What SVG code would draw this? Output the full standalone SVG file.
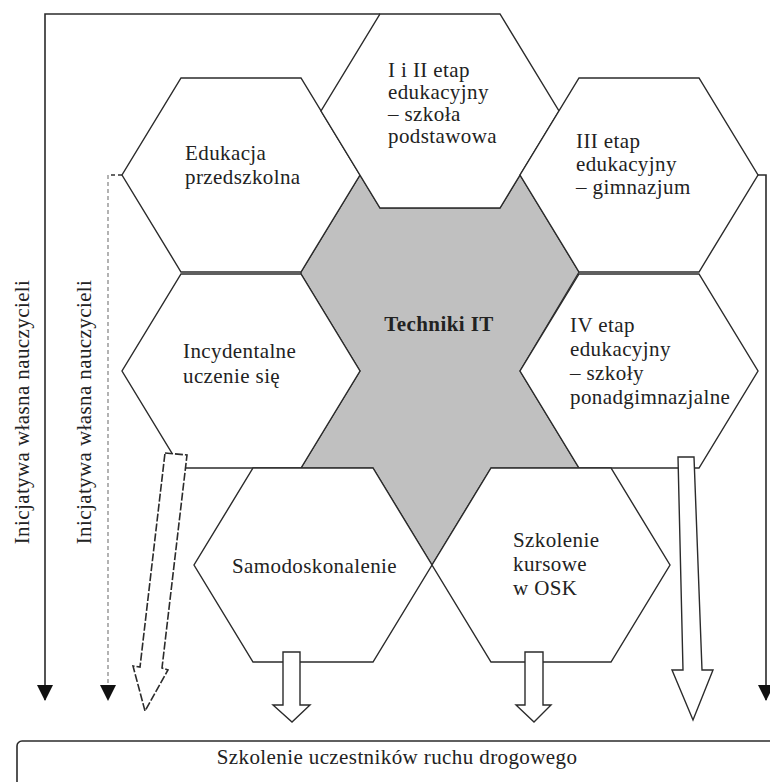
<svg xmlns="http://www.w3.org/2000/svg" width="770" height="782" viewBox="0 0 770 782">
<defs>
<style>
.hex{fill:#fff;stroke:#2b2b2b;stroke-width:1.4;stroke-linejoin:miter}
.t{font-family:"Liberation Serif","Times New Roman",serif;font-size:21px;fill:#222;letter-spacing:0.4px}
.b{font-weight:bold;text-anchor:middle}
.ln{fill:none;stroke:#2b2b2b;stroke-width:1.6}
.dl{fill:none;stroke:#8a8a8a;stroke-width:1.3;stroke-dasharray:4 3}
.ha{fill:#fff;stroke:#2b2b2b;stroke-width:1.4;stroke-linejoin:miter}
.hd{fill:#fff;stroke:#2b2b2b;stroke-width:1.6;stroke-dasharray:8 2}
</style>
<marker id="ah" markerWidth="16" markerHeight="16" viewBox="0 0 16 16" refX="15" refY="8" orient="auto" markerUnits="userSpaceOnUse">
<path d="M0,0 L16,8 L0,16 Z" fill="#111"/>
</marker>
</defs>
<rect width="770" height="782" fill="#fff"/>

<g id="center-techniki-it">
<polygon points="360,175 380,208 500,208 520,175 579,272 520,371 579,468 491,468 432,565 373,468 301,468 360,371 301,274 301,272" fill="#c0c0c0" stroke="#2b2b2b" stroke-width="1.2"/>
<text class="t b" x="439" y="331">Techniki IT</text>
</g>

<g id="node-edukacja">
<polygon class="hex" points="181,78 301,78 360,175 301,272 181,272 122,175"/>
<text class="t" x="185" y="160">Edukacja</text>
<text class="t" x="185" y="184">przedszkolna</text>
</g>

<g id="node-etap-1-2">
<polygon class="hex" points="380,14 500,14 559,111 500,208 380,208 321,111"/>
<text class="t" x="388" y="77">I i II etap</text>
<text class="t" x="388" y="99">edukacyjny</text>
<text class="t" x="388" y="121">– szkoła</text>
<text class="t" x="388" y="143">podstawowa</text>
</g>

<g id="node-etap-3">
<polygon class="hex" points="579,78 699,78 758,175 699,272 579,272 520,175"/>
<text class="t" x="576" y="148">III etap</text>
<text class="t" x="576" y="171">edukacyjny</text>
<text class="t" x="576" y="194">– gimnazjum</text>
</g>

<g id="node-incydentalne">
<polygon class="hex" points="181,274 301,274 360,371 301,468 181,468 122,371"/>
<text class="t" x="183" y="358">Incydentalne</text>
<text class="t" x="183" y="383">uczenie się</text>
</g>

<g id="node-etap-4">
<polygon class="hex" points="579,274 699,274 758,371 699,468 579,468 520,371"/>
<text class="t" x="570" y="332">IV etap</text>
<text class="t" x="570" y="356">edukacyjny</text>
<text class="t" x="570" y="380">– szkoły</text>
<text class="t" x="570" y="404">ponadgimnazjalne</text>
</g>

<g id="node-samodoskonalenie">
<polygon class="hex" points="253,468 373,468 432,565 373,662 253,662 194,565"/>
<text class="t" x="232" y="573">Samodoskonalenie</text>
</g>

<g id="node-szkolenie-kursowe">
<polygon class="hex" points="491,468 611,468 670,565 611,662 491,662 432,565"/>
<text class="t" x="513" y="547">Szkolenie</text>
<text class="t" x="513" y="571">kursowe</text>
<text class="t" x="513" y="595">w OSK</text>
</g>

<g id="node-szkolenie-uczestnikow">
<rect x="17" y="741" width="770" height="60" rx="5" fill="#fff" stroke="#2b2b2b" stroke-width="1.6"/>
<text class="t" x="397" y="764" text-anchor="middle">Szkolenie uczestników ruchu drogowego</text>
</g>

<g id="labels">
<text class="t" transform="translate(29,412) rotate(-90)" text-anchor="middle">Inicjatywa własna nauczycieli</text>
<text class="t" transform="translate(91,412) rotate(-90)" text-anchor="middle">Inicjatywa własna nauczycieli</text>
</g>

<g id="connectors">
<path class="ln" d="M380,14 H45 V700" marker-end="url(#ah)"/>
<path class="ln" d="M758,175 H766 V700" marker-end="url(#ah)"/>
<path d="M122,175 H108" fill="none" stroke="#333" stroke-width="1.3" stroke-dasharray="4 3"/>
<path class="dl" d="M108,175 V700" marker-end="url(#ah)"/>
<polygon class="hd" points="165,453 187,455 162,668 168,670 145,711 133,666 140,667"/>
<polygon class="ha" points="283,652 300,652 300,705 310,705 292,722 273,705 283,705"/>
<polygon class="ha" points="525,652 543,652 543,705 551,705 534,722 516,705 525,705"/>
<polygon class="ha" points="678,457 694,457 702,670 713,670 693,720 672,670 683,670"/>
</g>
</svg>
